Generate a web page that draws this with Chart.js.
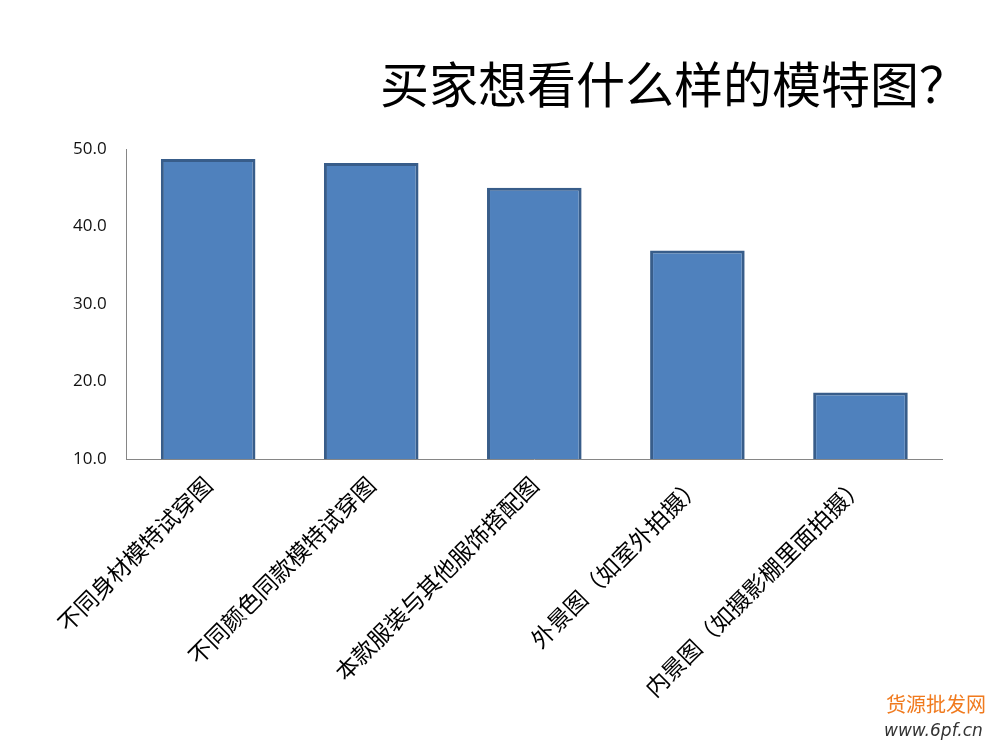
<!DOCTYPE html>
<html>
<head>
<meta charset="utf-8">
<script src="https://cdn.jsdelivr.net/npm/chart.js@4/dist/chart.umd.min.js"></script>
<style>
  html, body { margin: 0; padding: 0; background: #fff; }
  #wrap { width: 1000px; height: 750px; }
</style>
</head>
<body>
<div id="wrap"><canvas id="myChart" width="1000" height="750"></canvas></div>
<script>
// chart data
const categories = [
  "不同身材模特试穿图",
  "不同颜色同款模特试穿图",
  "本款服装与其他服饰搭配图",
  "外景图（如室外拍摄）",
  "内景图（如摄影棚里面拍摄）"
];
const values = [48.7, 48.2, 45.0, 36.9, 18.6];
const yTicks = [10, 20, 30, 40, 50];
const titleText = "买家想看什么样的模特图？";
const markText = ["货源批发网", "www.6pf.cn"];

// big title, drawn by hand so it can sit at the right edge
const bigTitle = {
  id: "bigTitle",
  afterDraw(c) {
    const ctx = c.ctx;
    ctx.save();
    ctx.fillStyle = "#000";
    ctx.font = "49px 'Noto Sans CJK SC'";
    ctx.textAlign = "right";
    ctx.textBaseline = "middle";
    ctx.fillText(titleText, 968, 84);
    ctx.restore();
  }
};

// watermark in the lower right corner
const watermark = {
  id: "watermark",
  afterDraw(c) {
    const ctx = c.ctx;
    ctx.save();
    ctx.textAlign = "left";
    ctx.textBaseline = "middle";
    ctx.fillStyle = "#F07A1E";
    ctx.font = "20px 'Noto Sans CJK SC'";
    ctx.fillText(markText[0], 886, 704);
    ctx.fillStyle = "#333";
    ctx.font = "italic 17px 'DejaVu Sans'";
    ctx.fillText(markText[1], 884, 732);
    ctx.restore();
  }
};

new Chart(document.getElementById("myChart").getContext("2d"), {
  type: "bar",
  data: {
    labels: categories,
    datasets: [{
      data: values,
      backgroundColor: "#4F81BD",
      borderColor: "#385D8A",
      borderWidth: 3,
      barPercentage: 0.58,
      categoryPercentage: 1
    }]
  },
  options: {
    responsive: false,
    animation: false,
    layout: { padding: { left: 61, right: 58, top: 149, bottom: 44 } },
    plugins: {
      legend: { display: false },
      tooltip: { enabled: false },
      title: { display: false }
    },
    scales: {
      x: {
        grid: { display: false },
        border: { display: true, color: "#868686", width: 1 },
        ticks: {
          color: "#000",
          minRotation: 45,
          maxRotation: 45,
          autoSkip: false,
          padding: 4,
          font: { family: "'Noto Sans CJK SC'", size: 23 }
        }
      },
      y: {
        min: 10,
        max: 50,
        afterBuildTicks: (axis) => { axis.ticks = yTicks.map(v => ({ value: v })); },
        grid: { display: false },
        border: { display: true, color: "#868686", width: 1 },
        ticks: {
          color: "#111",
          padding: 12,
          font: { family: "'Open Sans'", size: 17 },
          callback: (v) => Number(v).toFixed(1)
        }
      }
    }
  },
  plugins: [bigTitle, watermark]
});
</script>
</body>
</html>
